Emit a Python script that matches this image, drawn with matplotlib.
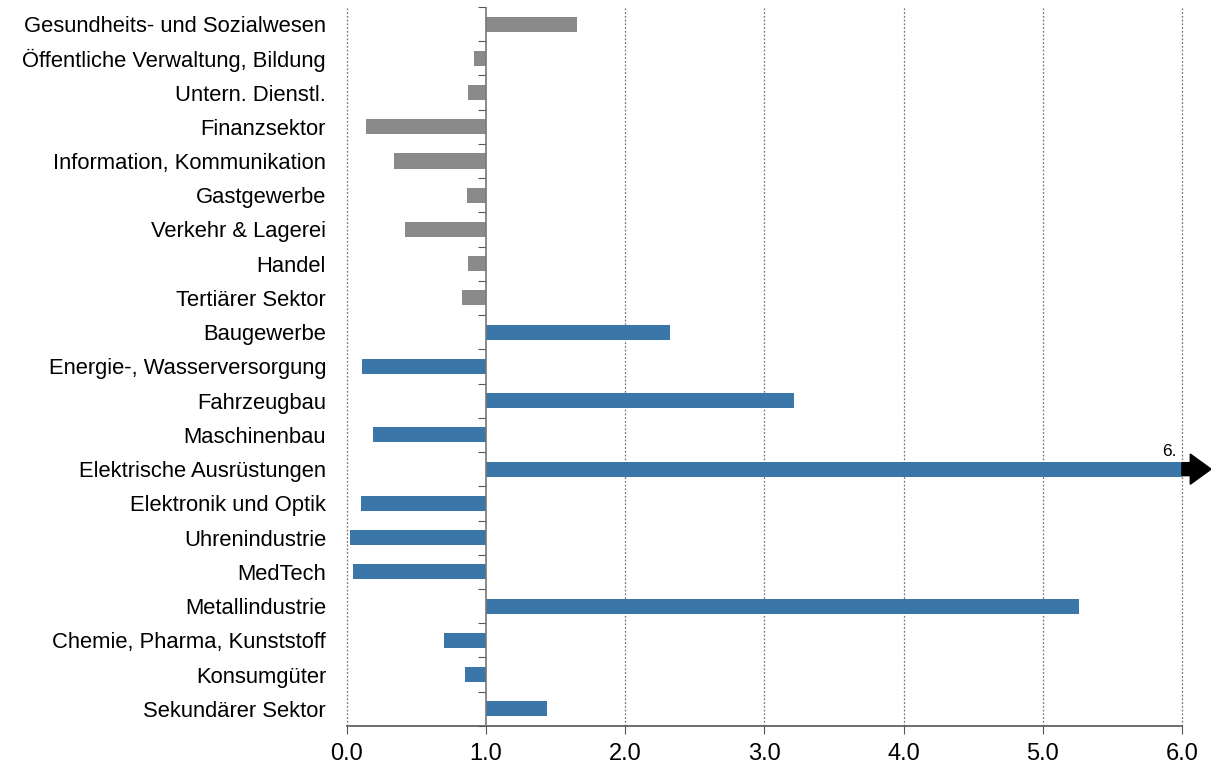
import matplotlib
matplotlib.use("Agg")
import matplotlib.pyplot as plt
import numpy as np

# categories top to bottom
categories = [
    "Gesundheits- und Sozialwesen",
    "Öffentliche Verwaltung, Bildung",
    "Untern. Dienstl.",
    "Finanzsektor",
    "Information, Kommunikation",
    "Gastgewerbe",
    "Verkehr & Lagerei",
    "Handel",
    "Tertiärer Sektor",
    "Baugewerbe",
    "Energie-, Wasserversorgung",
    "Fahrzeugbau",
    "Maschinenbau",
    "Elektrische Ausrüstungen",
    "Elektronik und Optik",
    "Uhrenindustrie",
    "MedTech",
    "Metallindustrie",
    "Chemie, Pharma, Kunststoff",
    "Konsumgüter",
    "Sekundärer Sektor",
]
values = [1.65, 0.91, 0.87, 0.14, 0.34, 0.86, 0.42, 0.87, 0.83, 2.32,
          0.11, 3.21, 0.19, 6.0, 0.10, 0.02, 0.04, 5.26, 0.70, 0.85, 1.44]
sector = ["tert"] * 9 + ["sek"] * 12
xticks = [0, 1, 2, 3, 4, 5, 6]
base = 1.0
clipped_label = "6."

colors = {"tert": "#8a8a8a", "sek": "#3a76a8"}

plt.rcParams["font.family"] = ["Liberation Sans", "DejaVu Sans"]

fig = plt.figure(figsize=(12.11, 7.69), dpi=100)
ax = fig.add_axes([0.2865, 0.056, 0.6895, 0.935])

y = np.arange(len(categories))
vals = np.array(values)
ax.barh(y, vals - base, left=base, height=0.44,
        color=[colors[s] for s in sector], zorder=3)

ax.set_xlim(0, 6)
ax.set_ylim(len(categories) - 0.5, -0.5)
ax.set_xticks(xticks)
ax.set_xticklabels([f"{t:.1f}" for t in xticks], fontsize=17)
ax.tick_params(axis="x", direction="out", length=6, color="#555555", pad=6)
ax.set_yticks(y)
ax.set_yticklabels(categories, fontsize=15.8)
ax.tick_params(axis="y", length=0, pad=15)

for x in xticks:
    if x != base:
        ax.axvline(x, color="#777777", linestyle=(0, (1.5, 1.5)), linewidth=0.9,
                   zorder=1, clip_on=False)

for s in ["top", "right", "left"]:
    ax.spines[s].set_visible(False)
ax.spines["bottom"].set_color("#555555")
ax.spines["bottom"].set_linewidth(1.2)

# vertical axis at x = 1.0 with ticks at category boundaries
ax.axvline(base, color="#777777", linewidth=1.2, zorder=4)
sec = ax.secondary_yaxis(base / 6.0)
for s in sec.spines.values():
    s.set_visible(False)
sec.set_yticks(np.arange(len(categories) + 1) - 0.5)
sec.set_yticklabels([])
sec.yaxis.set_ticks_position("left")
sec.tick_params(axis="y", direction="out", length=6, color="#555555")

# arrow for the clipped bar
idx = categories.index("Elektrische Ausrüstungen")
ax.arrow(6.0, idx, 0.21, 0, width=0.38, head_width=0.88, head_length=0.15,
         length_includes_head=True, color="black", clip_on=False, zorder=5)
ax.text(5.96, idx - 0.3, clipped_label, ha="right", va="bottom", fontsize=12.5)

fig.savefig("out.png", dpi=100)
